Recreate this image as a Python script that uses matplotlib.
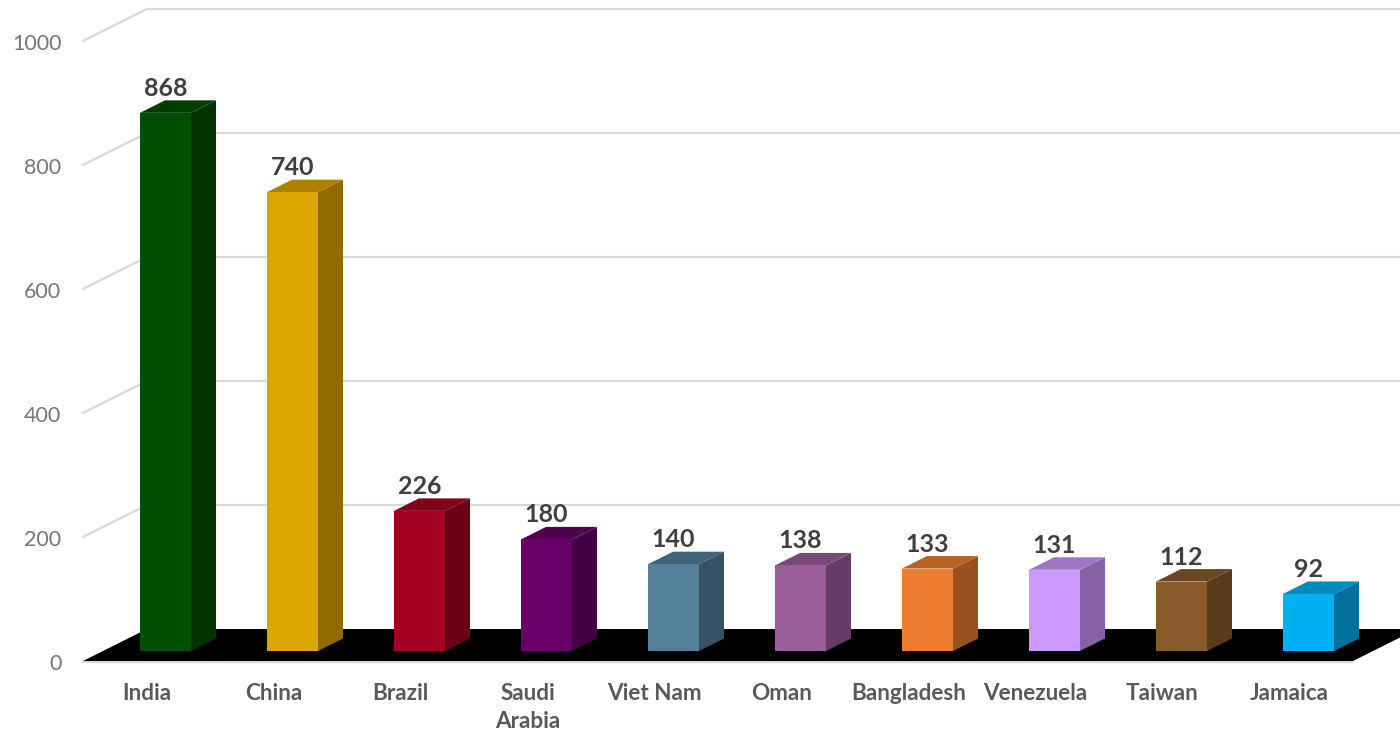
import matplotlib
matplotlib.use("Agg")
import matplotlib.pyplot as plt
from matplotlib.colors import to_rgb
from matplotlib.patches import Polygon
from matplotlib.transforms import ScaledTranslation

countries = ["India", "China", "Brazil", "Saudi\nArabia", "Viet Nam", "Oman",
             "Bangladesh", "Venezuela", "Taiwan", "Jamaica"]
values = [868, 740, 226, 180, 140, 138, 133, 131, 112, 92]
bar_colors = ["#004F00", "#DDA500", "#A50021", "#660066", "#558099", "#9C5E9A",
              "#ED7D31", "#CC99FF", "#8A5A2B", "#00B0F0"]
y_ticks = [0, 200, 400, 600, 800, 1000]

# Fake 3D: depth is a shift in (category, value) units
PX_X = 1 / 127
PX_Y = 1000 / 620
WALL_DX = 64 * PX_X
WALL_DY = 32 * PX_Y
BAR_DX = 25 * PX_X
BAR_DY = 12.5 * PX_Y
BAR_BASE = 10 * PX_Y
HALF_W = 25.5 * PX_X
GRID = "#D9D9D9"

plt.rcParams["font.family"] = ["Lato", "DejaVu Sans"]


def shade(color, factor):
    return tuple(c * factor for c in to_rgb(color))


fig = plt.figure(figsize=(14, 7.32), dpi=100, facecolor="white")
ax = fig.add_axes([83 / 1400, 71 / 732, 1317 / 1400, 620 / 732])
xmin, xmax = -82.5 * PX_X, 1234.5 * PX_X
ax.set_xlim(xmin, xmax)
ax.set_ylim(0, 1000)
ax.spines[["top", "right", "left", "bottom"]].set_visible(False)

# Grid lines run up the side wall and then along the back wall
for tick in y_ticks[1:]:
    ax.plot([xmin, xmin + WALL_DX, xmax + 1], [tick, tick + WALL_DY, tick + WALL_DY],
            color=GRID, linewidth=1.6, clip_on=False, zorder=1)

# Black floor
floor_right = xmin + 1270 * PX_X
ax.plot([xmin, floor_right], [-1, -1], color=GRID, linewidth=1.6, clip_on=False, zorder=1)
ax.add_patch(Polygon([(xmin, 0), (xmin + WALL_DX, WALL_DY),
                      (floor_right + WALL_DX, WALL_DY), (floor_right, 0)],
                     facecolor="black", edgecolor="none", clip_on=False, zorder=2))

# Bars: front, side and top faces
for i, (value, color) in enumerate(zip(values, bar_colors)):
    left, right = i - HALF_W, i + HALF_W
    top = BAR_BASE + value
    ax.bar(i, value, width=2 * HALF_W, bottom=BAR_BASE, color=color, clip_on=False, zorder=4)
    ax.add_patch(Polygon([(right, BAR_BASE), (right + BAR_DX, BAR_BASE + BAR_DY),
                          (right + BAR_DX, top + BAR_DY), (right, top)],
                         facecolor=shade(color, 0.65), edgecolor="none", clip_on=False, zorder=3))
    ax.add_patch(Polygon([(left, top), (left + BAR_DX, top + BAR_DY),
                          (right + BAR_DX, top + BAR_DY), (right, top)],
                         facecolor=shade(color, 0.78), edgecolor="none", clip_on=False, zorder=3))
    ax.text(i, top + BAR_DY + 12 * PX_Y, str(value), ha="center", va="center",
            fontsize=18, fontweight="bold", color="#404040", clip_on=False, zorder=5)

# Axis labels
ax.set_yticks(y_ticks)
ax.tick_params(axis="y", length=0, pad=15.5, labelsize=15.5, labelcolor="#767676")
for label in ax.get_yticklabels():
    label.set_transform(label.get_transform() + ScaledTranslation(0, -1 / 100, fig.dpi_scale_trans))
ax.set_xticks([i - 19 * PX_X for i in range(len(countries))])
ax.set_xticklabels(countries, fontsize=16.2, fontweight="bold", color="#595959", linespacing=1.42)
ax.tick_params(axis="x", length=0, pad=15.5)

fig.savefig("out.png", dpi=100, facecolor="white")
